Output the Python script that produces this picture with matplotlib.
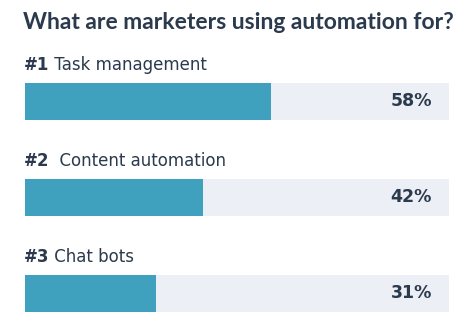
import matplotlib
matplotlib.use("Agg")
import matplotlib.pyplot as plt

title = "What are marketers using automation for?"
ranks = ["#1", "#2", "#3"]
tasks = ["Task management", " Content automation", "Chat bots"]
shares = [58, 42, 31]

W, H = 474, 328
fill_col = "#3fa1bd"
track_col = "#eceff5"
text_col = "#2b3a4c"

fig = plt.figure(figsize=(W / 100, H / 100), dpi=100)
fig.patch.set_facecolor("white")

# axes spans the bar track horizontally and the whole figure vertically
x0, x1 = 25, 449
ax = fig.add_axes([x0 / W, 0, (x1 - x0) / W, 1])
ax.set_xlim(0, 100)
spacing = 96.0
c0 = 101.5
ax.set_ylim((H - c0) / spacing, -c0 / spacing)
ax.axis("off")

pos = list(range(len(shares)))
bh = 37 / spacing
ax.barh(pos, [100] * len(shares), height=bh, color=track_col, left=0)
ax.barh(pos, shares, height=bh, color=fill_col)

font = "DejaVu Sans"
for i, (r, t, v) in enumerate(zip(ranks, tasks, shares)):
    yb = i - bh / 2 - 13 / spacing
    lab = ax.text(-0.3, yb, r, fontsize=12, fontweight="bold", color=text_col,
                  va="baseline", ha="left", family=font)
    ax.annotate(" " + t, xy=(1, 0), xycoords=lab, va="bottom", ha="left",
                fontsize=12, color=text_col, family=font,
                annotation_clip=False)
    ax.text(96, i, f"{v}%", fontsize=12.5, fontweight="bold", color=text_col,
            va="center", ha="right", family=font)

ttl = fig.text(23 / W, 1 - 29 / H, title, fontsize=15, fontweight="bold",
               color=text_col, va="baseline", ha="left", family="Lato")
# shrink title to the width it has in the reference (~433 px)
fig.canvas.draw()
w = ttl.get_window_extent().width
ttl.set_fontsize(15 * 433 / w)

fig.savefig("out.png", dpi=100, facecolor="white")
